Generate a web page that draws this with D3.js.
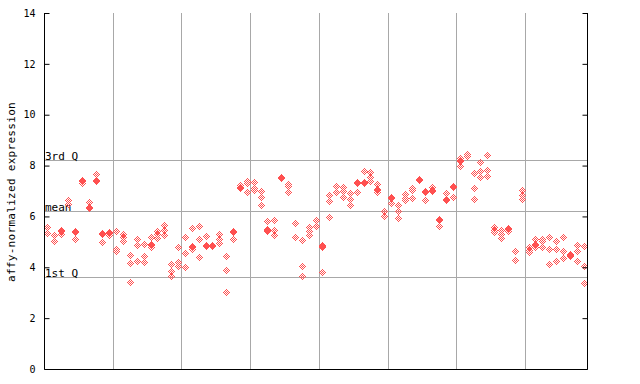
<!DOCTYPE html>
<html><head><meta charset="utf-8">
<script src="https://cdn.jsdelivr.net/npm/d3@7"></script>
<style>body{margin:0;background:#fff;} svg{display:block;}</style>
</head><body>
<svg id="chart" width="640" height="384"></svg>
<script>
// ---- data ----
const yTicks = [0, 2, 4, 6, 8, 10, 12, 14];
const quartiles = [3.62, 6.22, 8.22];
const quartileLabels = ["1st Q", "mean", "3rd Q"];
const groupBreaks = [10, 20, 30, 40, 50, 60, 70];
const yLabel = "affy-normalized expression";
// expression values per sample (replicates)
const samples = [
  [5.58, 5.34], [5.26, 5.03], [5.46, 5.42, 5.32], [6.64, 6.49], [5.42, 5.38, 5.10],
  [7.45, 7.41, 7.32], [6.55, 6.36, 6.32], [7.65, 7.43, 7.39], [5.33, 5.29, 4.99], [5.39, 5.35, 5.26],
  [5.43, 4.72, 4.66], [5.30, 5.18, 5.03], [4.47, 4.16, 3.41], [5.10, 4.87, 4.24], [4.91, 4.44, 4.20],
  [5.18, 4.93, 4.89, 4.81], [5.43, 5.29, 5.15], [5.67, 5.47, 5.26], [4.12, 3.84, 3.65], [4.79, 4.22, 4.07],
  [5.18, 4.55, 4.00], [5.54, 4.83, 4.79, 4.73], [5.62, 5.10, 4.39], [5.22, 4.89, 4.85], [4.87, 4.83],
  [5.30, 5.10, 4.94], [4.43, 3.88, 3.02], [5.43, 5.39, 5.10], [7.23, 7.14, 7.10], [7.40, 7.31, 6.98],
  [7.35, 7.10, 7.02], [6.99, 6.76, 6.44], [5.81, 5.52, 5.48, 5.41], [5.85, 5.47, 5.26], [7.55, 7.51],
  [7.27, 7.18, 6.98], [5.73, 5.18], [5.08, 4.04, 3.65], [5.58, 5.43, 5.26], [5.85, 5.62],
  [4.87, 4.83, 4.79, 3.81], [6.83, 6.60, 5.97], [7.19, 6.98], [7.15, 6.99, 6.76], [6.91, 6.68, 6.44],
  [7.35, 7.31, 6.95], [7.78, 7.37, 7.31], [7.74, 7.57, 7.39], [7.27, 7.09, 7.05, 6.98], [6.21, 6.03],
  [6.78, 6.74, 6.52], [6.44, 6.21, 5.93], [6.87, 6.74, 6.64], [7.11, 7.03, 6.74], [7.46, 7.42],
  [7.00, 6.96, 6.64], [7.15, 7.05, 7.01], [5.91, 5.87, 5.64], [6.91, 6.68, 6.64], [7.18, 7.14, 6.76],
  [8.29, 8.21, 8.17, 7.98], [8.45, 8.37], [7.70, 7.11, 6.68], [8.13, 7.78, 7.54], [8.41, 7.82, 7.58],
  [5.58, 5.47, 5.38], [5.47, 5.30, 5.15], [5.56, 5.52, 5.42], [4.66, 4.27], [7.03, 6.85, 6.68],
  [4.79, 4.68, 4.59], [5.10, 4.91, 4.87, 4.79], [5.10, 5.03, 4.81], [5.18, 4.71, 4.12], [5.03, 4.71, 4.24],
  [5.18, 4.63, 4.36], [4.52, 4.48, 4.44], [4.87, 4.63, 4.24], [4.83, 4.05, 3.37]
];

// ---- layout ----
const svg = d3.select("#chart");
const mLeft = 44, mRight = 587, mTop = 13, mBottom = 369;
const x = d3.scaleLinear().domain([0, samples.length]).range([mLeft, mRight]);
const y = d3.scaleLinear().domain([0, 14]).range([mBottom, mTop]);
const red = "#ff5050", grid = "#a8a8a8";
const font = "'DejaVu Sans Mono', monospace";

// gridlines
svg.append("g").selectAll("line").data(groupBreaks).join("line")
  .attr("x1", d => Math.round(x(d)) + 0.5).attr("x2", d => Math.round(x(d)) + 0.5)
  .attr("y1", mTop).attr("y2", mBottom)
  .attr("stroke", grid).attr("stroke-width", 1);
svg.append("g").selectAll("line").data(quartiles).join("line")
  .attr("x1", mLeft).attr("x2", mRight)
  .attr("y1", d => Math.round(y(d)) + 0.5).attr("y2", d => Math.round(y(d)) + 0.5)
  .attr("stroke", grid).attr("stroke-width", 1);
svg.append("g").selectAll("text").data(quartiles).join("text")
  .attr("x", mLeft + 1).attr("y", d => Math.round(y(d)) - 0.5)
  .attr("font-family", font).attr("font-size", 11).attr("fill", "#000")
  .text((d, i) => quartileLabels[i]);

// diamond pixel glyph (checker pattern)
let dPath = "";
for (let dy = -3; dy <= 3; dy++) for (let dx = -3; dx <= 3; dx++) {
  if (Math.abs(dx) + Math.abs(dy) <= 3 && Math.abs((dx + dy) % 2) === 1)
    dPath += `M${dx} ${dy}h1v1h-1z`;
}
const pts = [];
samples.forEach((vals, i) => vals.forEach(v => pts.push({i, v})));
svg.append("g").attr("shape-rendering", "crispEdges").selectAll("path").data(pts).join("path")
  .attr("transform", d => `translate(${Math.round(x(d.i + 0.5))},${Math.round(y(d.v))})`)
  .attr("d", dPath).attr("fill", red);

// axes
const yAxisL = d3.axisLeft(y).tickValues(yTicks).tickSize(-5).tickPadding(9).tickFormat(d3.format("d"));
const gL = svg.append("g").attr("transform", `translate(${mLeft + 0.5},0)`).call(yAxisL);
gL.select(".domain").remove();
gL.selectAll(".tick line").attr("stroke", "#000");
gL.selectAll(".tick text").attr("font-family", font).attr("font-size", 10).attr("fill", "#000");
const yAxisR = d3.axisRight(y).tickValues(yTicks).tickSize(-5).tickFormat("");
const gR = svg.append("g").attr("transform", `translate(${mRight + 0.5},0)`).call(yAxisR);
gR.select(".domain").remove();
gR.selectAll(".tick line").attr("stroke", "#000");

svg.append("path")
  .attr("d", `M${mLeft + 0.5},${mTop}V${mBottom + 0.5}H${mRight + 0.5}V${mTop}`)
  .attr("fill", "none").attr("stroke", "#000").attr("stroke-width", 1);

svg.append("text")
  .attr("transform", `translate(15,${(102 + 282) / 2}) rotate(-90)`)
  .attr("text-anchor", "middle").attr("font-family", font).attr("font-size", 11)
  .attr("letter-spacing", 0.3)
  .attr("fill", "#000").text(yLabel);
</script>
</body></html>
